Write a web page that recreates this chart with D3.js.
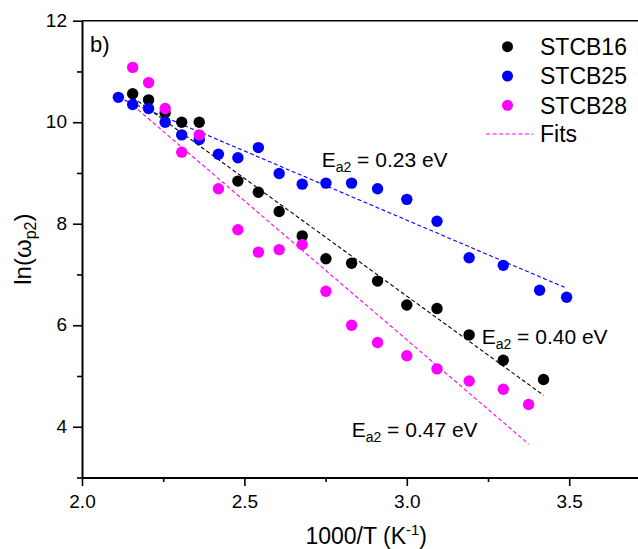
<!DOCTYPE html>
<html>
<head>
<meta charset="utf-8">
<script src="https://cdn.jsdelivr.net/npm/d3@7"></script>
<style>
  body { margin: 0; background: #fff; }
  svg { display: block; font-family: "Liberation Sans", Arial, sans-serif; }
  .axis path, .axis line { stroke: #000; }
  .axis text { font-size: 19px; fill: #000; font-family: "Liberation Sans", Arial, sans-serif; }
</style>
</head>
<body>
<svg id="chart" width="638" height="549"></svg>
<script>
// Data
const xTicks = [2.0, 2.5, 3.0, 3.5];
const xMinorTicks = [2.25, 2.75, 3.25, 3.75];
const yTicks = [4, 6, 8, 10, 12];
const yMinorTicks = [3, 5, 7, 9, 11];

const seriesNames = ['STCB16', 'STCB25', 'STCB28'];
const seriesColors = ['#000000', '#0000ff', '#ff00ff'];

const stcb16X = [2.156, 2.205, 2.256, 2.307, 2.361, 2.480, 2.543, 2.607, 2.678, 2.751, 2.830, 2.910, 3.000, 3.093, 3.192, 3.297, 3.421];
const stcb16Y = [10.56, 10.44, 10.18, 10.00, 10.00, 8.84, 8.62, 8.24, 7.76, 7.31, 7.22, 6.87, 6.40, 6.33, 5.81, 5.31, 4.93];

const stcb25X = [2.112, 2.156, 2.205, 2.256, 2.307, 2.361, 2.420, 2.480, 2.543, 2.607, 2.678, 2.751, 2.830, 2.910, 3.000, 3.093, 3.192, 3.297, 3.409, 3.492];
const stcb25Y = [10.49, 10.35, 10.27, 10.00, 9.75, 9.66, 9.37, 9.30, 9.50, 8.99, 8.78, 8.80, 8.80, 8.69, 8.48, 8.05, 7.33, 7.18, 6.69, 6.55];

const stcb28X = [2.156, 2.205, 2.256, 2.307, 2.361, 2.420, 2.480, 2.543, 2.607, 2.678, 2.751, 2.830, 2.910, 3.000, 3.093, 3.192, 3.297, 3.375];
const stcb28Y = [11.08, 10.78, 10.27, 9.41, 9.75, 8.69, 7.88, 7.44, 7.49, 7.59, 6.67, 6.00, 5.66, 5.40, 5.14, 4.90, 4.74, 4.44];

// Fit lines: [start, end] in x and y
const fit16X = [2.156, 3.421], fit16Y = [10.49, 4.62];
const fit25X = [2.112, 3.492], fit25Y = [10.49, 6.73];
const fit28X = [2.157, 3.375], fit28Y = [10.33, 3.66];

const fitLabels = ['0.40', '0.23', '0.47'];

const svg = d3.select('#chart');

// Plot frame (right edge runs past the window, as in the reference)
const plotLeft = 82, plotTop = 20.7, plotBottom = 477.5, plotRight = 650.4;

const x = d3.scaleLinear().domain([2.0, 3.75]).range([plotLeft, plotRight]);
const y = d3.scaleLinear().domain([3, 12]).range([plotBottom, plotTop]);

// Axes
const xAxis = svg.append('g')
  .attr('class', 'axis')
  .attr('transform', `translate(0,${plotBottom})`)
  .call(d3.axisBottom(x).tickValues(xTicks).tickFormat(d3.format('.1f')).tickSize(8.5).tickPadding(9).tickSizeOuter(0));
xAxis.select('.domain').attr('stroke-width', 2);
xAxis.selectAll('.tick line').attr('stroke-width', 1.6);

svg.append('g')
  .attr('class', 'axis')
  .attr('transform', `translate(0,${plotBottom})`)
  .call(d3.axisBottom(x).tickValues(xMinorTicks).tickFormat('').tickSize(4.5).tickSizeOuter(0))
  .call(g => g.select('.domain').remove())
  .selectAll('.tick line').attr('stroke-width', 1.6);

const yAxis = svg.append('g')
  .attr('class', 'axis')
  .attr('transform', `translate(${plotLeft},0)`)
  .call(d3.axisLeft(y).tickValues(yTicks).tickSize(9).tickPadding(6).tickSizeOuter(0));
yAxis.select('.domain').attr('stroke-width', 2);
yAxis.selectAll('.tick line').attr('stroke-width', 1.6);
yAxis.selectAll('.tick text').attr('dy', '0.3em');

svg.append('g')
  .attr('class', 'axis')
  .attr('transform', `translate(${plotLeft},0)`)
  .call(d3.axisLeft(y).tickValues(yMinorTicks).tickFormat('').tickSize(5).tickSizeOuter(0))
  .call(g => g.select('.domain').remove())
  .selectAll('.tick line').attr('stroke-width', 1.6);

// Top border
svg.append('line')
  .attr('x1', plotLeft).attr('x2', plotRight)
  .attr('y1', plotTop).attr('y2', plotTop)
  .attr('stroke', '#000').attr('stroke-width', 1.6);

// Axis titles
const xTitle = svg.append('text')
  .attr('x', (plotLeft + plotRight) / 2)
  .attr('y', 543.5)
  .attr('text-anchor', 'middle')
  .attr('font-size', 23);
xTitle.append('tspan').text('1000/T (K');
xTitle.append('tspan').attr('font-size', 15).attr('dy', -9).text('-1');
xTitle.append('tspan').attr('dy', 9).text(')');

const yTitle = svg.append('text')
  .attr('transform', `translate(31,${(plotTop + plotBottom) / 2}) rotate(-90)`)
  .attr('text-anchor', 'middle')
  .attr('font-size', 24);
yTitle.append('tspan').text('ln(ω');
yTitle.append('tspan').attr('font-size', 16).attr('dy', 5).text('p2');
yTitle.append('tspan').attr('dy', -5).text(')');

// Panel label
svg.append('text')
  .attr('x', 90).attr('y', 51.7)
  .attr('font-size', 22)
  .text('b)');

// Fit lines (dashed)
const fits = [
  { xs: fit16X, ys: fit16Y, color: seriesColors[0] },
  { xs: fit25X, ys: fit25Y, color: seriesColors[1] },
  { xs: fit28X, ys: fit28Y, color: seriesColors[2] }
];
svg.append('g')
  .selectAll('line')
  .data(fits)
  .enter().append('line')
  .attr('x1', d => x(d.xs[0])).attr('y1', d => y(d.ys[0]))
  .attr('x2', d => x(d.xs[1])).attr('y2', d => y(d.ys[1]))
  .attr('stroke', d => d.color)
  .attr('stroke-width', 1.1)
  .attr('stroke-dasharray', '4,2.5');

// Scatter points
const series = [
  { xs: stcb16X, ys: stcb16Y, color: seriesColors[0] },
  { xs: stcb25X, ys: stcb25Y, color: seriesColors[1] },
  { xs: stcb28X, ys: stcb28Y, color: seriesColors[2] }
];
series.forEach(s => {
  svg.append('g')
    .selectAll('circle')
    .data(s.xs.map((v, i) => [v, s.ys[i]]))
    .enter().append('circle')
    .attr('cx', d => x(d[0]))
    .attr('cy', d => y(d[1]))
    .attr('r', 5.7)
    .attr('fill', s.color);
});

// Activation energy labels
const annotations = [
  { text: fitLabels[1], px: 321.7, py: 166.7 },
  { text: fitLabels[0], px: 481.7, py: 344 },
  { text: fitLabels[2], px: 351.7, py: 436.7 }
];
annotations.forEach(a => {
  const t = svg.append('text')
    .attr('x', a.px).attr('y', a.py)
    .attr('font-size', 21);
  t.append('tspan').text('E');
  t.append('tspan').attr('font-size', 14).attr('dy', 5).text('a2');
  t.append('tspan').attr('dy', -5).text(` = ${a.text} eV`);
});

// Legend
const legend = svg.append('g');
const legendRowY = [46.7, 76, 105.3];
seriesNames.forEach((name, i) => {
  legend.append('circle')
    .attr('cx', 507.5).attr('cy', legendRowY[i])
    .attr('r', 5.5)
    .attr('fill', seriesColors[i]);
  legend.append('text')
    .attr('x', 540).attr('y', legendRowY[i] + 8.3)
    .attr('font-size', 23)
    .text(name);
});
legend.append('line')
  .attr('x1', 486).attr('x2', 533)
  .attr('y1', 134).attr('y2', 134)
  .attr('stroke', seriesColors[2])
  .attr('stroke-width', 1.1)
  .attr('stroke-dasharray', '4,2.5');
legend.append('text')
  .attr('x', 540).attr('y', 142)
  .attr('font-size', 23)
  .text('Fits');
</script>
</body>
</html>
